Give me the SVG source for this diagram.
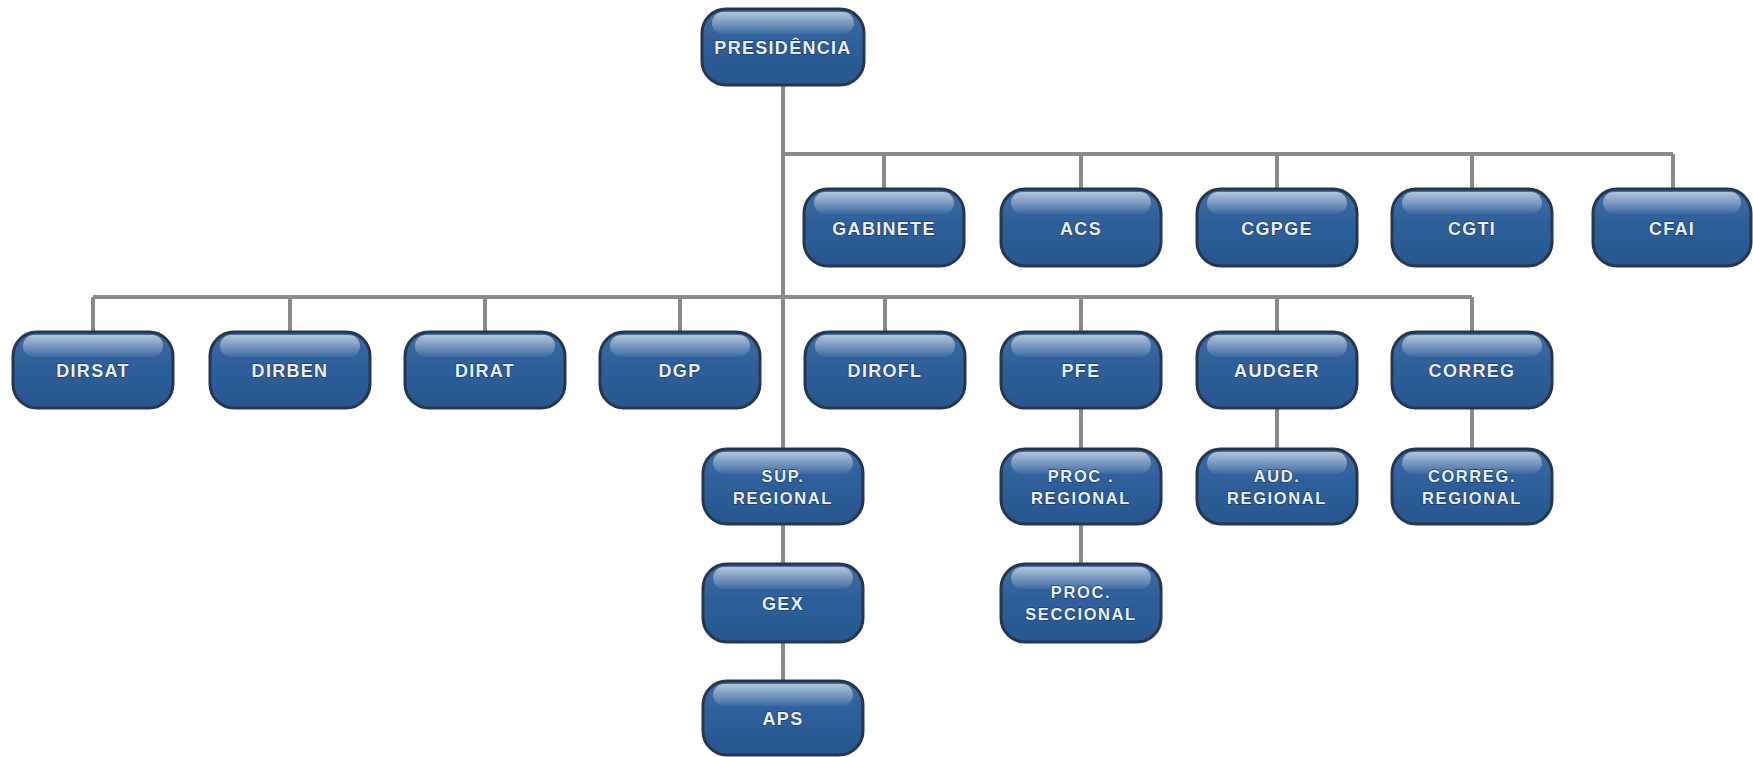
<svg xmlns="http://www.w3.org/2000/svg" width="1753" height="757" viewBox="0 0 1753 757">
<style>
.box{fill:url(#body);stroke:#26364c;stroke-width:3}
.hl{fill:url(#gloss)}
.t{font-family:"Liberation Sans",Arial,sans-serif;font-weight:bold;fill:#e8f0f9;stroke:#1d3d66;stroke-width:1.4;paint-order:stroke;text-anchor:middle;letter-spacing:1.3px;font-size:18px}
.t2{font-size:16.5px;letter-spacing:1.6px}
.c{stroke:#8a8a8a;stroke-width:4;fill:none}
</style>
<defs>
<linearGradient id="body" x1="0" y1="0" x2="0" y2="1">
<stop offset="0" stop-color="#3f6ea5"/>
<stop offset="0.45" stop-color="#2e5f9a"/>
<stop offset="1" stop-color="#28578f"/>
</linearGradient>
<linearGradient id="gloss" x1="0" y1="0" x2="0" y2="1">
<stop offset="0" stop-color="#ffffff" stop-opacity="0.6"/>
<stop offset="1" stop-color="#ffffff" stop-opacity="0.05"/>
</linearGradient>
</defs>
<rect width="1753" height="757" fill="#ffffff"/>
<g id="connectors">
<path class="c" d="M783 85V449M783 154H1673M884 154V189M1081 154V189M1277 154V189M1472 154V189M1673 154V189M93 297H1472M93 297V332M290 297V332M485 297V332M680 297V332M885 297V332M1081 297V332M1277 297V332M1472 297V332M783 524V564M783 642V681M1081 408V449M1081 524V564M1277 408V449M1472 408V449"/>
</g>
<g id="presidencia"><rect class="box" x="702" y="9" width="162" height="76" rx="24"/><rect class="hl" x="712" y="12" width="142" height="22" rx="11"/><text class="t" x="783" y="54">PRESIDÊNCIA</text></g>
<g id="gabinete"><rect class="box" x="804" y="189" width="160" height="77" rx="24"/><rect class="hl" x="814" y="192" width="140" height="22" rx="11"/><text class="t" x="884" y="235">GABINETE</text></g>
<g id="acs"><rect class="box" x="1001" y="189" width="160" height="77" rx="24"/><rect class="hl" x="1011" y="192" width="140" height="22" rx="11"/><text class="t" x="1081" y="235">ACS</text></g>
<g id="cgpge"><rect class="box" x="1197" y="189" width="160" height="77" rx="24"/><rect class="hl" x="1207" y="192" width="140" height="22" rx="11"/><text class="t" x="1277" y="235">CGPGE</text></g>
<g id="cgti"><rect class="box" x="1392" y="189" width="160" height="77" rx="24"/><rect class="hl" x="1402" y="192" width="140" height="22" rx="11"/><text class="t" x="1472" y="235">CGTI</text></g>
<g id="cfai"><rect class="box" x="1593" y="189" width="158" height="77" rx="24"/><rect class="hl" x="1603" y="192" width="138" height="22" rx="11"/><text class="t" x="1672" y="235">CFAI</text></g>
<g id="dirsat"><rect class="box" x="13" y="332" width="160" height="76" rx="24"/><rect class="hl" x="23" y="335" width="140" height="22" rx="11"/><text class="t" x="93" y="377">DIRSAT</text></g>
<g id="dirben"><rect class="box" x="210" y="332" width="160" height="76" rx="24"/><rect class="hl" x="220" y="335" width="140" height="22" rx="11"/><text class="t" x="290" y="377">DIRBEN</text></g>
<g id="dirat"><rect class="box" x="405" y="332" width="160" height="76" rx="24"/><rect class="hl" x="415" y="335" width="140" height="22" rx="11"/><text class="t" x="485" y="377">DIRAT</text></g>
<g id="dgp"><rect class="box" x="600" y="332" width="160" height="76" rx="24"/><rect class="hl" x="610" y="335" width="140" height="22" rx="11"/><text class="t" x="680" y="377">DGP</text></g>
<g id="dirofl"><rect class="box" x="805" y="332" width="160" height="76" rx="24"/><rect class="hl" x="815" y="335" width="140" height="22" rx="11"/><text class="t" x="885" y="377">DIROFL</text></g>
<g id="pfe"><rect class="box" x="1001" y="332" width="160" height="76" rx="24"/><rect class="hl" x="1011" y="335" width="140" height="22" rx="11"/><text class="t" x="1081" y="377">PFE</text></g>
<g id="audger"><rect class="box" x="1197" y="332" width="160" height="76" rx="24"/><rect class="hl" x="1207" y="335" width="140" height="22" rx="11"/><text class="t" x="1277" y="377">AUDGER</text></g>
<g id="correg"><rect class="box" x="1392" y="332" width="160" height="76" rx="24"/><rect class="hl" x="1402" y="335" width="140" height="22" rx="11"/><text class="t" x="1472" y="377">CORREG</text></g>
<g id="sup-regional"><rect class="box" x="703" y="449" width="160" height="75" rx="24"/><rect class="hl" x="713" y="452" width="140" height="22" rx="11"/><text class="t t2" x="783" y="482">SUP.</text><text class="t t2" x="783" y="504">REGIONAL</text></g>
<g id="proc-regional"><rect class="box" x="1001" y="449" width="160" height="75" rx="24"/><rect class="hl" x="1011" y="452" width="140" height="22" rx="11"/><text class="t t2" x="1081" y="482">PROC .</text><text class="t t2" x="1081" y="504">REGIONAL</text></g>
<g id="aud-regional"><rect class="box" x="1197" y="449" width="160" height="75" rx="24"/><rect class="hl" x="1207" y="452" width="140" height="22" rx="11"/><text class="t t2" x="1277" y="482">AUD.</text><text class="t t2" x="1277" y="504">REGIONAL</text></g>
<g id="correg-regional"><rect class="box" x="1392" y="449" width="160" height="75" rx="24"/><rect class="hl" x="1402" y="452" width="140" height="22" rx="11"/><text class="t t2" x="1472" y="482">CORREG.</text><text class="t t2" x="1472" y="504">REGIONAL</text></g>
<g id="gex"><rect class="box" x="703" y="564" width="160" height="78" rx="24"/><rect class="hl" x="713" y="567" width="140" height="22" rx="11"/><text class="t" x="783" y="610">GEX</text></g>
<g id="proc-seccional"><rect class="box" x="1001" y="564" width="160" height="78" rx="24"/><rect class="hl" x="1011" y="567" width="140" height="22" rx="11"/><text class="t t2" x="1081" y="598">PROC.</text><text class="t t2" x="1081" y="620">SECCIONAL</text></g>
<g id="aps"><rect class="box" x="703" y="681" width="160" height="74" rx="24"/><rect class="hl" x="713" y="684" width="140" height="22" rx="11"/><text class="t" x="783" y="725">APS</text></g>
</svg>
